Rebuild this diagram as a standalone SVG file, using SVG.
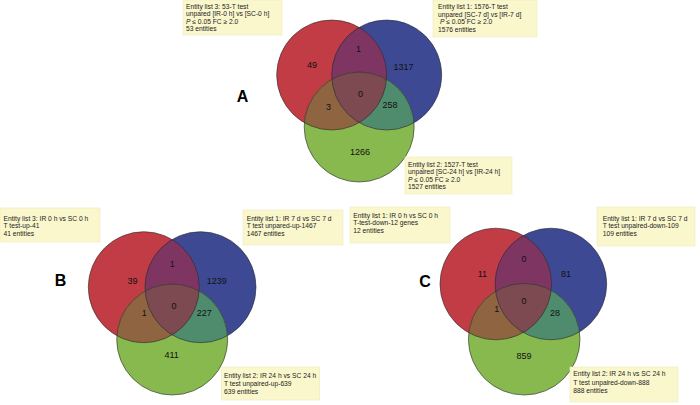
<svg xmlns="http://www.w3.org/2000/svg" width="700" height="405" viewBox="0 0 700 405">
<style>
.bg{fill:#ffffff}
.r{fill:#C23C45}.b{fill:#3E4994}.g{fill:#88B94E}
.rb{fill:#7F3562}.rg{fill:#8E6540}.bgx{fill:#4F8C6E}.rbg{fill:#7C4A50}
.ol{fill:none;stroke:#2a2a2a;stroke-width:0.8;stroke-opacity:0.75}
.box{fill:#FAF7CD;stroke:#EDE9BC;stroke-width:0.6}
.t{font-family:"Liberation Sans",Arial,sans-serif;font-size:6.7px;fill:#222}
.n{font-family:"Liberation Sans",Arial,sans-serif;font-size:9px;fill:#111;text-anchor:middle}
.L{font-family:"Liberation Sans",Arial,sans-serif;font-size:16px;font-weight:bold;fill:#000;text-anchor:middle}
</style>
<defs>
<clipPath id="a-cr"><circle cx="331.7" cy="75" r="55"/></clipPath>
<clipPath id="a-cb"><circle cx="386.7" cy="75" r="55"/></clipPath>
<clipPath id="b-cr"><circle cx="143.8" cy="287.2" r="55.5"/></clipPath>
<clipPath id="b-cb"><circle cx="200.5" cy="287.2" r="55.5"/></clipPath>
<clipPath id="c-cr"><circle cx="495.8" cy="284" r="55.8"/></clipPath>
<clipPath id="c-cb"><circle cx="550.9" cy="284" r="55.8"/></clipPath>
</defs>
<rect class="bg" x="0" y="0" width="700" height="405"/>

<!-- Panel A -->
<g id="venn-a">
<g id="a-set3-red"><circle class="r" cx="331.7" cy="75" r="55"/></g>
<g id="a-set1-blue"><circle class="b" cx="386.7" cy="75" r="55"/></g>
<g id="a-set2-green"><circle class="g" cx="359.2" cy="127" r="55"/></g>
<g id="a-overlaps">
<circle class="rb" cx="386.7" cy="75" r="55" clip-path="url(#a-cr)"/>
<circle class="rg" cx="359.2" cy="127" r="55" clip-path="url(#a-cr)"/>
<circle class="bgx" cx="359.2" cy="127" r="55" clip-path="url(#a-cb)"/>
<g clip-path="url(#a-cr)"><circle class="rbg" cx="359.2" cy="127" r="55" clip-path="url(#a-cb)"/></g>
</g>
<g id="a-outlines">
<circle class="ol" cx="331.7" cy="75" r="55"/>
<circle class="ol" cx="386.7" cy="75" r="55"/>
<circle class="ol" cx="359.2" cy="127" r="55"/>
</g>
<g id="a-counts">
<text class="n" x="312" y="68">49</text>
<text class="n" x="358.5" y="51.5">1</text>
<text class="n" x="403.5" y="70">1317</text>
<text class="n" x="360.5" y="96.5">0</text>
<text class="n" x="328.5" y="110">3</text>
<text class="n" x="390" y="108">258</text>
<text class="n" x="360" y="155">1266</text>
</g>
<text class="L" x="242.5" y="102">A</text>
<g id="a-box3">
<rect class="box" x="183" y="0" width="99" height="35"/>
<text class="t" x="186" y="8.5">Entity list 3: 53-T test</text>
<text class="t" x="186" y="16">unpared [IR-0 h] vs [SC-0 h]</text>
<text class="t" x="186" y="23.5"><tspan font-style="italic">P</tspan> ≤ 0.05 FC ≥ 2.0</text>
<text class="t" x="186" y="31">53 entities</text>
</g>
<g id="a-box1">
<rect class="box" x="433" y="0" width="104" height="37"/>
<text class="t" x="438" y="9">Entity list 1: 1576-T test</text>
<text class="t" x="438" y="16.5">unpared [SC-7 d] vs [IR-7 d]</text>
<text class="t" x="440" y="24"><tspan font-style="italic">P</tspan> ≤ 0.05 FC ≥ 2.0</text>
<text class="t" x="438" y="31.5">1576 entities</text>
</g>
<g id="a-box2">
<rect class="box" x="405" y="157" width="107" height="37"/>
<text class="t" x="408" y="166.5">Entity list 2: 1527-T test</text>
<text class="t" x="408" y="174">unpaired [SC-24 h] vs [IR-24 h]</text>
<text class="t" x="408" y="181.5"><tspan font-style="italic">P</tspan> ≤ 0.05 FC ≥ 2.0</text>
<text class="t" x="408" y="189">1527 entities</text>
</g>
</g>

<!-- Panel B -->
<g id="venn-b">
<g id="b-set3-red"><circle class="r" cx="143.8" cy="287.2" r="55.5"/></g>
<g id="b-set1-blue"><circle class="b" cx="200.5" cy="287.2" r="55.5"/></g>
<g id="b-set2-green"><circle class="g" cx="172.2" cy="339.5" r="55.5"/></g>
<g id="b-overlaps">
<circle class="rb" cx="200.5" cy="287.2" r="55.5" clip-path="url(#b-cr)"/>
<circle class="rg" cx="172.2" cy="339.5" r="55.5" clip-path="url(#b-cr)"/>
<circle class="bgx" cx="172.2" cy="339.5" r="55.5" clip-path="url(#b-cb)"/>
<g clip-path="url(#b-cr)"><circle class="rbg" cx="172.2" cy="339.5" r="55.5" clip-path="url(#b-cb)"/></g>
</g>
<g id="b-outlines">
<circle class="ol" cx="143.8" cy="287.2" r="55.5"/>
<circle class="ol" cx="200.5" cy="287.2" r="55.5"/>
<circle class="ol" cx="172.2" cy="339.5" r="55.5"/>
</g>
<g id="b-counts">
<text class="n" x="132.5" y="283.5">39</text>
<text class="n" x="172.3" y="266.5">1</text>
<text class="n" x="216.7" y="283.5">1239</text>
<text class="n" x="174" y="309">0</text>
<text class="n" x="144.3" y="315.5">1</text>
<text class="n" x="204.3" y="315.5">227</text>
<text class="n" x="171.7" y="357.5">411</text>
</g>
<text class="L" x="60.5" y="286">B</text>
<g id="b-box3">
<rect class="box" x="0" y="208" width="100" height="34"/>
<text class="t" x="3.5" y="220.5">Entity list 3: IR 0 h vs SC 0 h</text>
<text class="t" x="3.5" y="228">T test-up-41</text>
<text class="t" x="3.5" y="235.5">41 entities</text>
</g>
<g id="b-box1">
<rect class="box" x="243" y="210" width="100" height="35"/>
<text class="t" x="246.7" y="220.5">Entity list 1: IR 7 d vs SC 7 d</text>
<text class="t" x="246.7" y="228">T test unpared-up-1467</text>
<text class="t" x="246.7" y="235.5">1467 entities</text>
</g>
<g id="b-box2">
<rect class="box" x="221.7" y="367" width="98" height="33"/>
<text class="t" x="224" y="378">Entity list 2: IR 24 h vs SC 24 h</text>
<text class="t" x="224" y="386">T test unpaired-up-639</text>
<text class="t" x="224" y="394">639 entities</text>
</g>
</g>

<!-- Panel C -->
<g id="venn-c">
<g id="c-set1-red"><circle class="r" cx="495.8" cy="284" r="55.8"/></g>
<g id="c-set1-blue"><circle class="b" cx="550.9" cy="284" r="55.8"/></g>
<g id="c-set2-green"><circle class="g" cx="524.2" cy="339.2" r="55.8"/></g>
<g id="c-overlaps">
<circle class="rb" cx="550.9" cy="284" r="55.8" clip-path="url(#c-cr)"/>
<circle class="rg" cx="524.2" cy="339.2" r="55.8" clip-path="url(#c-cr)"/>
<circle class="bgx" cx="524.2" cy="339.2" r="55.8" clip-path="url(#c-cb)"/>
<g clip-path="url(#c-cr)"><circle class="rbg" cx="524.2" cy="339.2" r="55.8" clip-path="url(#c-cb)"/></g>
</g>
<g id="c-outlines">
<circle class="ol" cx="495.8" cy="284" r="55.8"/>
<circle class="ol" cx="550.9" cy="284" r="55.8"/>
<circle class="ol" cx="524.2" cy="339.2" r="55.8"/>
</g>
<g id="c-counts">
<text class="n" x="482.3" y="277.2">11</text>
<text class="n" x="524" y="262.2">0</text>
<text class="n" x="566" y="276.5">81</text>
<text class="n" x="524" y="304">0</text>
<text class="n" x="496.7" y="312.2">1</text>
<text class="n" x="555" y="315.5">28</text>
<text class="n" x="524" y="359">859</text>
</g>
<text class="L" x="425" y="287.3">C</text>
<g id="c-box1a">
<rect class="box" x="350" y="207" width="100" height="36"/>
<text class="t" x="353.3" y="217.5">Entity list 1: IR 0 h vs SC 0 h</text>
<text class="t" x="353.3" y="225">T-test-down-12 genes</text>
<text class="t" x="353.3" y="232.5">12 entities</text>
</g>
<g id="c-box1b">
<rect class="box" x="597" y="207" width="98" height="39"/>
<text class="t" x="602.7" y="220.5">Entity list 1: IR 7 d vs SC 7 d</text>
<text class="t" x="602.7" y="228">T test unpaired-down-109</text>
<text class="t" x="602.7" y="235.5">109 entities</text>
</g>
<g id="c-box2">
<rect class="box" x="570" y="367" width="108" height="35"/>
<text class="t" x="573.3" y="376">Entity list 2: IR 24 h vs SC 24 h</text>
<text class="t" x="573.3" y="384.5">T test unpaired-down-888</text>
<text class="t" x="573.3" y="393">888 entities</text>
</g>
</g>
</svg>
